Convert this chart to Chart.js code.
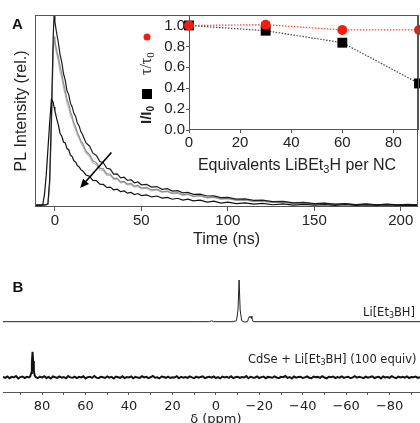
<!DOCTYPE html>
<html><head><meta charset="utf-8">
<script src="https://cdn.jsdelivr.net/npm/chart.js@4.4.1/dist/chart.umd.min.js"></script>
<style>
html,body{margin:0;padding:0;background:#fff;width:420px;height:423px;overflow:hidden;}
#wrap{position:relative;width:420px;height:423px;background:#fff;}
canvas{position:absolute;}
#cMain{left:0;top:0;}
#cInset{left:140px;top:0;}
#cNmr{left:0;top:270px;}
</style></head><body>
<div id="wrap">
<canvas id="cMain" width="420" height="250"></canvas>
<canvas id="cInset" width="280" height="180"></canvas>
<canvas id="cNmr" width="420" height="153"></canvas>
</div>
<script>
// ---------- Panel A: PL decay ----------
const decayTime = [-11,-8,-7,-6,-5,-4,-3,-2,-1,-0.5,
 0,1,2,3,4,5,6,7,8,9,
 10,11,12,13,14,15,16,18,20,22,
 24,26,28,30,32,34,36,38,40,42,
 44,46,48,50,53,56,59,62,65,68,
 71,74,77,80,84,88,92,96,100,105,
 110,115,120,126,132,138,144,150,156,162,
 168,174,180,186,192,198,204,210];
const decayBlackTop = [0.002,0.003,0.002,0.003,0.004,0.01,0.14,0.47,0.88,1.0,
 0.97,0.91,0.86,0.795,0.755,0.695,0.66,0.605,0.585,0.54,
 0.52,0.485,0.47,0.435,0.42,0.39,0.375,0.33,0.314,0.276,
 0.264,0.232,0.226,0.196,0.192,0.166,0.167,0.146,0.149,0.132,
 0.136,0.12,0.124,0.109,0.111,0.097,0.1,0.085,0.089,0.076,
 0.078,0.067,0.069,0.059,0.06,0.05,0.051,0.042,0.043,0.034,
 0.035,0.027,0.028,0.02,0.022,0.014,0.016,0.01,0.012,0.007,
 0.01,0.005,0.008,0.004,0.007,0.003,0.006,0.004];
const decayGray1 = [0.002,0.002,0.003,0.002,0.003,0.008,0.12,0.43,0.82,0.89,
 0.87,0.82,0.785,0.735,0.695,0.645,0.605,0.56,0.535,0.495,
 0.47,0.435,0.415,0.385,0.365,0.34,0.33,0.286,0.269,0.236,
 0.225,0.197,0.193,0.167,0.166,0.143,0.144,0.125,0.127,0.113,
 0.116,0.102,0.106,0.093,0.095,0.082,0.086,0.073,0.076,0.065,
 0.068,0.056,0.06,0.049,0.052,0.042,0.044,0.035,0.037,0.028,
 0.03,0.022,0.024,0.016,0.019,0.011,0.014,0.008,0.011,0.006,
 0.009,0.004,0.007,0.003,0.006,0.003,0.005,0.003];
const decayGray2 = [0.003,0.002,0.002,0.003,0.002,0.007,0.11,0.41,0.8,0.87,
 0.85,0.8,0.76,0.705,0.67,0.62,0.585,0.54,0.515,0.475,
 0.455,0.42,0.4,0.37,0.355,0.33,0.315,0.276,0.259,0.224,
 0.216,0.187,0.185,0.159,0.16,0.137,0.138,0.119,0.123,0.107,
 0.111,0.097,0.101,0.087,0.091,0.077,0.082,0.069,0.073,0.061,
 0.065,0.053,0.058,0.047,0.05,0.04,0.042,0.033,0.036,0.027,
 0.029,0.021,0.023,0.015,0.018,0.01,0.014,0.007,0.01,0.005,
 0.008,0.004,0.006,0.003,0.005,0.002,0.004,0.003];
const decayBlackLow = [0.001,0.002,0.004,0.06,0.16,0.3,0.44,0.56,0.545,0.52,
 0.5,0.46,0.425,0.38,0.365,0.335,0.33,0.3,0.294,0.266,
 0.258,0.236,0.229,0.211,0.204,0.189,0.184,0.161,0.154,0.132,
 0.131,0.112,0.111,0.095,0.097,0.083,0.086,0.073,0.077,0.065,
 0.069,0.058,0.063,0.052,0.056,0.045,0.05,0.039,0.043,0.033,
 0.038,0.028,0.033,0.024,0.028,0.018,0.023,0.013,0.018,0.01,
 0.014,0.007,0.011,0.004,0.008,0.002,0.006,0.002,0.005,0.001,
 0.004,0.001,0.003,0.001,0.003,0.001,0.002,0.001];
const timeTicks = [0,50,100,150,200];
const arrowTime = [32.7, 14.6];
const arrowIntensity = [0.28, 0.092];

// ---------- Inset ----------
const equivalents = [0,30,60,90];
const ratioIntensity = [1.0,0.95,0.835,0.445];
const ratioLifetime = [1.0,1.007,0.957,0.957];
const insetXTicks = [0,20,40,60,80];
const insetYTicks = [0,0.2,0.4,0.6,0.8,1.0];

// ---------- Panel B: NMR ----------
const liPpm = [98,10,3,2,1,-8,-9.5,-10.2,-10.7,-11.2,-11.9,-13,-14.6,-15,-15.4,-15.8,-16.2,-16.6,-17.2,-94];
const liInt = [7.03,7.03,7.03,7.12,7.03,7.03,7.12,8.2,11.2,8.2,7.12,7.0,7.03,7.35,7.55,7.42,7.58,7.35,7.03,7.03];
const cdsePpm = [98,97,96,95,94,93,92,91,90,89,88,87,86,
 85.5,85,84.7,84.4,84.1,83.8,83.4,83,
 82,81,80,79,78,77,76,75,74,73,
 72,71,70,69,68,67,66,65,64,63,
 62,61,60,59,58,57,56,55,54,53,
 52,51,50,49,48,47,46,45,44,43,
 42,41,40,39,38,37,36,35,34,33,
 32,31,30,29,28,27,26,25,24,23,
 22,21,20,19,18,17,16,15,14,13,
 12,11,10,9,8,7,6,5,4,3,
 2,1,0,-1,-2,-3,-4,-5,-6,-7,
 -8,-9,-10,-11,-12,-13,-14,-15,-16,-17,
 -18,-19,-20,-21,-22,-23,-24,-25,-26,-27,
 -28,-29,-30,-31,-32,-33,-34,-35,-36,-37,
 -38,-39,-40,-41,-42,-43,-44,-45,-46,-47,
 -48,-49,-50,-51,-52,-53,-54,-55,-56,-57,
 -58,-59,-60,-61,-62,-63,-64,-65,-66,-67,
 -68,-69,-70,-71,-72,-73,-74,-75,-76,-77,
 -78,-79,-80,-81,-82,-83,-84,-85,-86,-87,
 -88,-89,-90,-91,-92,-93,-94];
const cdseInt = [1.50,1.42,1.55,1.38,1.52,1.45,1.60,1.36,1.49,1.55,1.40,1.52,1.46,
 1.55,1.9,2.9,4.03,3.1,2.1,1.65,1.5,
 1.38,1.53,1.44,1.58,1.40,1.50,1.35,1.55,1.47,1.41,
 1.56,1.43,1.50,1.37,1.59,1.46,1.42,1.54,1.39,1.51,
 1.45,1.57,1.36,1.49,1.53,1.41,1.60,1.44,1.38,1.52,
 1.47,1.40,1.56,1.43,1.51,1.35,1.54,1.48,1.42,1.58,
 1.39,1.50,1.46,1.55,1.37,1.52,1.44,1.41,1.57,1.45,
 1.51,1.38,1.49,1.60,1.43,1.47,1.36,1.55,1.50,1.42,
 1.54,1.40,1.48,1.45,1.58,1.37,1.52,1.44,1.49,1.41,
 1.56,1.46,1.39,1.53,1.43,1.50,1.57,1.38,1.47,1.52,
 1.44,1.55,1.40,1.49,1.36,1.54,1.46,1.51,1.42,1.58,
 1.39,1.48,1.53,1.41,1.50,1.45,1.59,1.37,1.52,1.46,
 1.43,1.56,1.40,1.49,1.54,1.38,1.51,1.47,1.42,1.57,
 1.45,1.39,1.52,1.48,1.60,1.41,1.50,1.36,1.55,1.44,
 1.49,1.53,1.40,1.46,1.57,1.43,1.38,1.54,1.47,1.51,
 1.42,1.58,1.45,1.37,1.52,1.48,1.55,1.40,1.50,1.44,
 1.56,1.41,1.49,1.53,1.38,1.47,1.59,1.43,1.51,1.46,
 1.39,1.54,1.44,1.50,1.57,1.40,1.48,1.52,1.36,1.55,
 1.45,1.49,1.42,1.58,1.47,1.38,1.53,1.46,1.51,1.43,
 1.56,1.40,1.50,1.47,1.54,1.41,1.49];
const nmrMinorTicks = [-90,-80,-70,-60,-50,-40,-30,-20,-10,0,10,20,30,40,50,60,70,80,90];
const nmrTickLabels = [-80,-60,-40,-20,0,20,40,60,80];

// ---------- helpers ----------
const SANS = "'Liberation Sans', Arial, sans-serif";
const SERIF = "'Liberation Serif', 'Times New Roman', serif";
const DEJAVU = "'DejaVu Sans', sans-serif";
Chart.defaults.font.family = SANS;
Chart.defaults.color = '#222';
const pts = (xs, ys) => xs.map((x, i) => ({x: x, y: ys[i]}));
const noPad = s => { s.paddingLeft = 0; s.paddingRight = 0; s.paddingTop = 0; s.paddingBottom = 0; };

function richText(ctx, parts, x, y, align) {
  let total = 0;
  parts.forEach(p => { ctx.font = p.font; p.w = ctx.measureText(p.t).width; total += p.w; });
  let cx = align === 'right' ? x - total : (align === 'center' ? x - total / 2 : x);
  ctx.textBaseline = 'middle'; ctx.textAlign = 'left';
  parts.forEach(p => { ctx.font = p.font; ctx.fillStyle = p.color || '#222'; ctx.fillText(p.t, cx, y + (p.dy || 0)); cx += p.w; });
}

const framePlugin = {
  id: 'frame',
  afterDatasetsDraw(chart) {
    const {ctx, chartArea: a} = chart;
    ctx.save();
    ctx.strokeStyle = '#555'; ctx.lineWidth = 1;
    ctx.strokeRect(Math.round(a.left) + 0.5, Math.round(a.top) + 0.5, Math.round(a.right - a.left) - 1, Math.round(a.bottom - a.top) - 1);
    ctx.restore();
  }
};

const arrowPlugin = {
  id: 'arrow',
  afterDatasetsDraw(chart) {
    const ctx = chart.ctx, xs = chart.scales.x, ys = chart.scales.y;
    const x1 = xs.getPixelForValue(arrowTime[0]), y1 = ys.getPixelForValue(arrowIntensity[0]);
    const x2 = xs.getPixelForValue(arrowTime[1]), y2 = ys.getPixelForValue(arrowIntensity[1]);
    const ang = Math.atan2(y2 - y1, x2 - x1), L = 9, W = 4;
    ctx.save();
    ctx.strokeStyle = '#000'; ctx.fillStyle = '#000'; ctx.lineWidth = 1.6;
    ctx.beginPath(); ctx.moveTo(x1, y1);
    ctx.lineTo(x2 - (L - 2) * Math.cos(ang), y2 - (L - 2) * Math.sin(ang)); ctx.stroke();
    ctx.beginPath(); ctx.moveTo(x2, y2);
    ctx.lineTo(x2 - L * Math.cos(ang) + W * Math.sin(ang), y2 - L * Math.sin(ang) - W * Math.cos(ang));
    ctx.lineTo(x2 - L * Math.cos(ang) - W * Math.sin(ang), y2 - L * Math.sin(ang) + W * Math.cos(ang));
    ctx.closePath(); ctx.fill();
    ctx.restore();
  }
};

const panelAPlugin = {
  id: 'panelA',
  afterDraw(chart) {
    const ctx = chart.ctx;
    ctx.save();
    ctx.fillStyle = '#111'; ctx.font = 'bold 15px ' + SANS; ctx.textAlign = 'center'; ctx.textBaseline = 'middle';
    ctx.fillText('A', 17.5, 24.5);
    ctx.restore();
  }
};

const line = (data, color, w) => ({data: data, borderColor: color, borderWidth: w, pointRadius: 0, fill: false, tension: 0});

new Chart(document.getElementById('cMain'), {
  type: 'line',
  data: {datasets: [
    line(pts(decayTime, decayBlackLow), '#111', 1.2),
    line(pts(decayTime, decayBlackTop), '#1c1c1c', 1.2),
    line(pts(decayTime, decayGray1), '#8f8f8f', 1.2),
    line(pts(decayTime, decayGray2), '#b9b9b9', 1.2)
  ]},
  options: {
    responsive: false, animation: false, devicePixelRatio: 1,
    layout: {autoPadding: false, padding: {top: 15, right: 2, left: 0, bottom: 0}},
    plugins: {legend: {display: false}, tooltip: {enabled: false}},
    scales: {
      x: {type: 'linear', min: -11.5, max: 210,
        afterBuildTicks: s => { s.ticks = timeTicks.map(v => ({value: v})); },
        afterFit: s => { s.height = 43; noPad(s); },
        ticks: {font: {size: 15}, padding: 1, maxRotation: 0, autoSkip: false, color: '#222'},
        grid: {drawOnChartArea: false, tickLength: 4, color: '#555'},
        border: {display: false},
        title: {display: true, text: 'Time (ns)', font: {size: 16}, padding: {top: 0, bottom: 1}, color: '#222'}
      },
      y: {type: 'linear', min: -0.008, max: 1.005,
        afterFit: s => { s.width = 35; noPad(s); },
        ticks: {display: false},
        grid: {display: false},
        border: {display: false},
        title: {display: true, text: 'PL Intensity (rel.)', font: {size: 16}, padding: {top: 12, bottom: 0}, color: '#222'}
      }
    }
  },
  plugins: [framePlugin, arrowPlugin, panelAPlugin]
});

const insetTextPlugin = {
  id: 'insetText',
  afterDraw(chart) {
    const ctx = chart.ctx;
    ctx.save();
    richText(ctx, [
      {t: 'Equivalents LiBEt', font: '16px ' + SANS},
      {t: '3', font: '11px ' + SANS, dy: 4},
      {t: 'H per NC', font: '16px ' + SANS}
    ], 157, 166, 'center');
    ctx.restore();
    ctx.save();
    ctx.translate(7, 124); ctx.rotate(-Math.PI / 2);
    richText(ctx, [
      {t: 'I/I', font: 'bold 15px ' + SANS},
      {t: '0', font: 'bold 10px ' + SANS, dy: 4}
    ], 0, 0, 'left');
    ctx.fillStyle = '#000'; ctx.fillRect(30 - 5, -5, 10, 10);
    richText(ctx, [
      {t: 'τ/τ', font: '16px ' + SERIF},
      {t: '0', font: '11px ' + SERIF, dy: 4}
    ], 49, 0, 'left');
    ctx.fillStyle = '#f21d0c'; ctx.beginPath(); ctx.arc(87, 0, 3.5, 0, Math.PI * 2); ctx.fill();
    ctx.restore();
  }
};

new Chart(document.getElementById('cInset'), {
  type: 'line',
  data: {datasets: [
    {data: pts(equivalents, ratioLifetime), borderColor: '#ff3a2a', borderWidth: 1.2, borderDash: [1.5, 1.5],
     pointStyle: 'circle', pointRadius: 5, pointBackgroundColor: '#f21d0c', pointBorderWidth: 0, clip: false, tension: 0},
    {data: pts(equivalents, ratioIntensity), borderColor: '#444', borderWidth: 1.2, borderDash: [1.5, 1.5],
     pointStyle: 'rect', pointRadius: 7, pointBackgroundColor: '#000', pointBorderWidth: 0, clip: false, tension: 0}
  ]},
  options: {
    responsive: false, animation: false, devicePixelRatio: 1,
    layout: {autoPadding: false, padding: {top: 15, right: 1, left: 0, bottom: 0}},
    plugins: {legend: {display: false}, tooltip: {enabled: false}},
    scales: {
      x: {type: 'linear', min: 0, max: 90,
        afterBuildTicks: s => { s.ticks = insetXTicks.map(v => ({value: v})); },
        afterFit: s => { s.height = 50; noPad(s); },
        ticks: {font: {size: 15}, padding: 1, maxRotation: 0, autoSkip: false, color: '#222'},
        grid: {drawOnChartArea: false, tickLength: 3, color: '#555'},
        border: {display: false}
      },
      y: {type: 'linear', min: 0, max: 1.1,
        afterBuildTicks: s => { s.ticks = insetYTicks.map(v => ({value: v})); },
        afterFit: s => { s.width = 49; noPad(s); },
        ticks: {font: {size: 15}, padding: 1, autoSkip: false, color: '#222', callback: v => Number(v).toFixed(1)},
        grid: {drawOnChartArea: false, tickLength: 3, color: '#555'},
        border: {display: false}
      }
    }
  },
  plugins: [framePlugin, insetTextPlugin]
});

const nmrTextPlugin = {
  id: 'nmrText',
  afterDraw(chart) {
    const ctx = chart.ctx;
    ctx.save();
    ctx.fillStyle = '#111'; ctx.font = 'bold 15px ' + SANS; ctx.textAlign = 'center'; ctx.textBaseline = 'middle';
    ctx.fillText('B', 18, 18);
    richText(ctx, [
      {t: 'Li[Et', font: '11.5px ' + DEJAVU},
      {t: '3', font: '8px ' + DEJAVU, dy: 3},
      {t: 'BH]', font: '11.5px ' + DEJAVU}
    ], 415, 43, 'right');
    richText(ctx, [
      {t: 'CdSe + Li[Et', font: '11.5px ' + DEJAVU},
      {t: '3', font: '8px ' + DEJAVU, dy: 3},
      {t: 'BH] (100 equiv)', font: '11.5px ' + DEJAVU}
    ], 416.5, 90, 'right');
    ctx.fillStyle = '#222'; ctx.font = '13px ' + DEJAVU; ctx.textAlign = 'center';
    ctx.fillText('δ (ppm)', chart.scales.x.getPixelForValue(0), 150);
    ctx.restore();
  }
};

new Chart(document.getElementById('cNmr'), {
  type: 'line',
  data: {datasets: [
    line(pts(liPpm, liInt), '#222', 1),
    line(pts(cdsePpm, cdseInt), '#111', 2)
  ]},
  options: {
    responsive: false, animation: false, devicePixelRatio: 1,
    layout: {autoPadding: false, padding: {top: 0, right: 0, left: 3, bottom: 0}},
    plugins: {legend: {display: false}, tooltip: {enabled: false}},
    scales: {
      x: {type: 'linear', reverse: true, min: -94, max: 98,
        afterBuildTicks: s => { s.ticks = nmrMinorTicks.map(v => ({value: v})); },
        afterFit: s => { s.height = 31; noPad(s); },
        ticks: {font: {size: 13, family: DEJAVU}, padding: 4, maxRotation: 0, autoSkip: false, color: '#222',
          callback: v => nmrTickLabels.includes(v) ? (v < 0 ? '\u2212' + Math.abs(v) : String(v)) : ''},
        grid: {drawOnChartArea: false, tickLength: 3, color: '#555'},
        border: {display: true, color: '#555', width: 1}
      },
      y: {display: false, min: 0, max: 12.2}
    }
  },
  plugins: [nmrTextPlugin]
});
</script>
</body></html>
